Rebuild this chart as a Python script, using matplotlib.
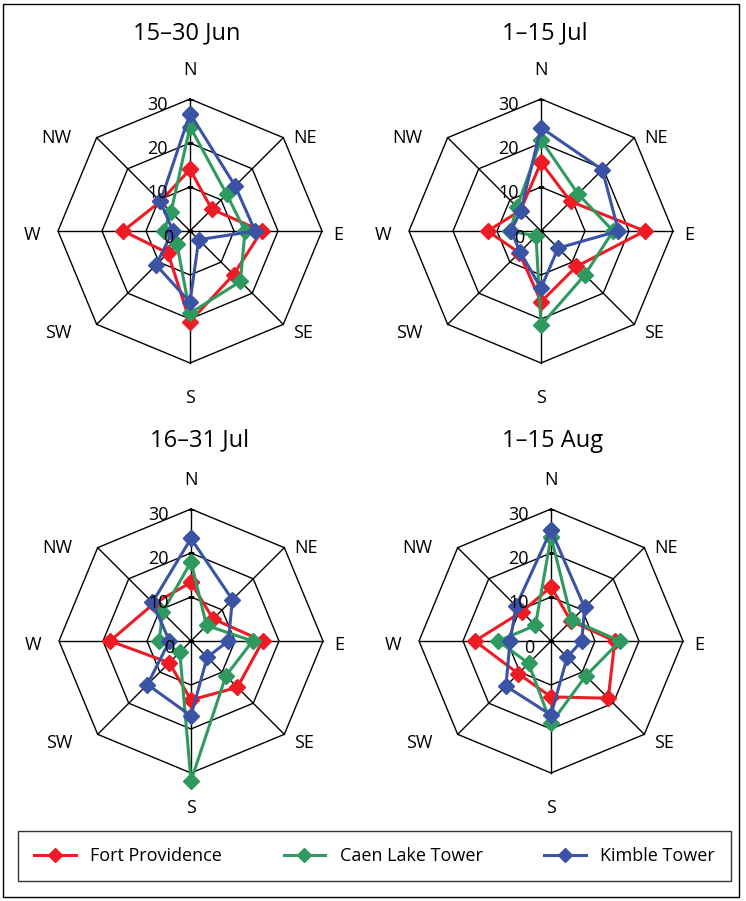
import numpy as np
import matplotlib.pyplot as plt
from matplotlib.patches import Rectangle
from matplotlib.lines import Line2D

plt.rcParams['font.family'] = ['Open Sans', 'DejaVu Sans']

# wind direction frequency (%) per station, one list per period
directions = ["N", "NE", "E", "SE", "S", "SW", "W", "NW"]
periods = ["15–30 Jun", "1–15 Jul", "16–31 Jul", "1–15 Aug"]

fort_providence = [
    [14.0, 7.0, 16.3, 14.0, 20.6, 7.1, 15.2, 9.5],
    [15.6, 9.5, 23.6, 11.4, 16.1, 7.0, 12.1, 6.6],
    [13.3, 7.1, 16.3, 14.9, 13.4, 7.0, 18.4, 12.0],
    [12.3, 6.4, 14.5, 18.4, 12.7, 10.5, 17.3, 9.4],
]
caen_lake = [
    [23.7, 11.8, 12.5, 16.2, 18.7, 4.2, 6.0, 6.1],
    [20.7, 11.9, 16.4, 14.1, 21.4, 1.6, 7.0, 7.7],
    [18.0, 5.0, 14.0, 11.2, 31.8, 3.6, 7.2, 9.2],
    [23.7, 6.7, 15.7, 11.2, 18.7, 7.2, 12.0, 5.0],
]
kimble = [
    [26.7, 14.5, 14.8, 2.8, 16.2, 10.9, 3.9, 9.5],
    [23.5, 19.7, 17.6, 5.5, 13.0, 6.7, 6.8, 6.5],
    [23.3, 13.3, 8.5, 5.2, 17.0, 14.0, 4.9, 12.4],
    [25.2, 10.8, 7.0, 5.2, 16.8, 14.5, 9.3, 11.2],
]
stations = ["Fort Providence", "Caen Lake Tower", "Kimble Tower"]
colors = ["#ED1C24", "#2E9A60", "#3A53A4"]
rings = [10, 20, 30]

W, H = 746, 901
R = 132
centers = [(190, 231), (541, 231), (191, 641), (551, 641)]
title_pos = [(187, 33), (545, 33), (200, 440), (553, 441)]

# label offsets (points) from the outer vertex
lab_off = {
    "N": (0, 21, "center"), "NE": (7, 0, "left"), "E": (8, -3, "left"),
    "SE": (7, -6.5, "left"), "S": (0, -25, "center"), "SW": (-18, -6.5, "right"),
    "W": (-13, -3, "right"), "NW": (-18, 0, "right"),
}

fig = plt.figure(figsize=(W / 100, H / 100), dpi=100)

theta = np.deg2rad(np.arange(len(directions)) * 45)
tc = np.append(theta, theta[0])

for i, per in enumerate(periods):
    cx, cy = centers[i]
    ax = fig.add_axes([(cx - R) / W, (H - cy - R) / H, 2 * R / W, 2 * R / H],
                      projection='polar')
    ax.set_theta_zero_location('N')
    ax.set_theta_direction(-1)
    ax.set_ylim(0, 30)
    ax.grid(False)
    ax.spines['polar'].set_visible(False)
    ax.set_xticks([])
    ax.set_yticks([])
    ax.patch.set_alpha(0)

    for r in rings:
        ax.plot(tc, [r] * len(tc), color='black', lw=1.0, clip_on=False)
    for t in theta:
        ax.plot([t, t], [0, 30], color='black', lw=1.0, clip_on=False)
    ax.plot([0] * 4, [0] + rings, ls='none', marker='_', ms=5, mew=1.0, color='black')

    for vals, c in zip([fort_providence[i], caen_lake[i], kimble[i]], colors):
        v = np.append(vals, vals[0])
        ax.plot(tc, v, color=c, lw=2.2, marker='D', ms=8, mec=c, clip_on=False, zorder=3)

    for val in [0] + rings:
        off = (-12, -5) if val == 0 else (-16, -4)
        ax.annotate(str(val), xy=(0, val), xytext=off, textcoords='offset points',
                    ha='right', va='center', fontsize=13, zorder=5)

    for t, d in zip(theta, directions):
        dx, dy, ha = lab_off[d]
        ax.annotate(d, xy=(t, 30), xytext=(dx, dy), textcoords='offset points',
                    ha=ha, va='center', fontsize=13, annotation_clip=False)

    tx, ty = title_pos[i]
    fig.text(tx / W, 1 - ty / H, per, ha='center', va='center', fontsize=17)

handles = [Line2D([], [], color=c, lw=2.2, marker='D', ms=7, mec=c) for c in colors]
leg = fig.legend(handles, stations, loc='center', ncol=3, mode='expand',
                 bbox_to_anchor=(18 / W, 1 - 881 / H, 713 / W, 50 / H),
                 frameon=True, fancybox=False, edgecolor='black', fontsize=13,
                 handlelength=2.3, borderpad=0.9, borderaxespad=0)
leg.get_frame().set_linewidth(1.0)

fig.add_artist(Rectangle((3 / W, 4 / H), 736 / W, 893 / H, transform=fig.transFigure,
                         fill=False, lw=1.0, edgecolor='black'))

fig.savefig("out.png", dpi=100)
